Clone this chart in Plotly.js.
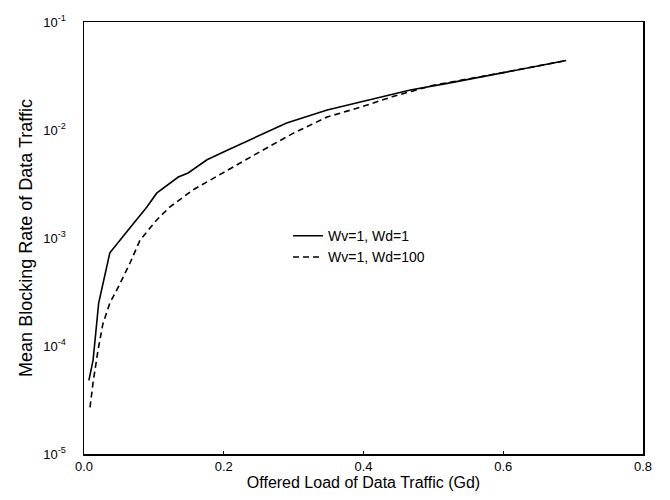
<!DOCTYPE html>
<html>
<head>
<meta charset="utf-8">
<script src="https://cdn.plot.ly/plotly-3.0.1.min.js"></script>
<style>html,body{margin:0;padding:0;background:#fff;}#chart{width:670px;height:500px;}</style>
</head>
<body>
<div id="chart"></div>
<script>
// Series 1: Wv=1, Wd=1 (solid)
const xSolid = [0.007, 0.013, 0.021, 0.037, 0.063, 0.090, 0.104, 0.135, 0.149, 0.176, 0.205, 0.242, 0.290, 0.348, 0.395, 0.467, 0.520, 0.600, 0.690];
const ySolid = [4.8e-5, 7.4e-5, 2.5e-4, 7.3e-4, 1.18e-3, 1.94e-3, 2.6e-3, 3.67e-3, 4.0e-3, 5.3e-3, 6.5e-3, 8.4e-3, 1.16e-2, 1.53e-2, 1.82e-2, 2.35e-2, 2.7e-2, 3.4e-2, 4.4e-2];
// Series 2: Wv=1, Wd=100 (dashed)
const xDash = [0.0086, 0.013, 0.020, 0.027, 0.037, 0.049, 0.066, 0.080, 0.104, 0.123, 0.156, 0.205, 0.252, 0.299, 0.348, 0.395, 0.442, 0.500, 0.600, 0.690];
const yDash = [2.7e-5, 4.6e-5, 9.1e-5, 1.6e-4, 2.5e-4, 3.5e-4, 5.9e-4, 9.5e-4, 1.47e-3, 1.94e-3, 2.79e-3, 4.26e-3, 6.3e-3, 9.3e-3, 1.32e-2, 1.62e-2, 2.04e-2, 2.6e-2, 3.4e-2, 4.4e-2];
const seriesNames = ["Wv=1, Wd=1", "Wv=1, Wd=100"];
// Axis ticks
const xTickVals = [0, 0.2, 0.4, 0.6, 0.8];
const xTickText = ["0.0", "0.2", "0.4", "0.6", "0.8"];
const yTickVals = [1e-5, 1e-4, 1e-3, 1e-2, 1e-1];
const yTickText = ["10<sup>-5</sup>", "10<sup>-4</sup>", "10<sup>-3</sup>", "10<sup>-2</sup>", "10<sup>-1</sup>"];

const font = "Liberation Sans, Arial, Helvetica, sans-serif";
const traces = [
  {x: xSolid, y: ySolid, name: seriesNames[0], mode: "lines", line: {color: "#000", width: 1.6, dash: "solid"}},
  {x: xDash, y: yDash, name: seriesNames[1], mode: "lines", line: {color: "#000", width: 1.6, dash: "6px,4px"}}
];
const layout = {
  width: 670, height: 500,
  margin: {l: 84, r: 27, t: 22, b: 46},
  paper_bgcolor: "#fff", plot_bgcolor: "#fff",
  font: {family: font, color: "#000", size: 13},
  showlegend: true,
  legend: {x: 0.365, y: 0.48, xanchor: "left", yanchor: "middle", bgcolor: "rgba(0,0,0,0)", font: {size: 14, family: font}, tracegroupgap: 0},
  xaxis: {
    range: [0, 0.8], tickvals: xTickVals, ticktext: xTickText,
    showgrid: false, zeroline: false, showline: true, mirror: true, linecolor: "#000", linewidth: 1.5,
    ticks: "inside", ticklen: 3, tickcolor: "#000",
    tickfont: {size: 13, family: font},
    title: {text: "Offered Load of Data Traffic (Gd)", font: {size: 16, family: font}, standoff: 2}
  },
  yaxis: {
    type: "log", range: [-5, -1], tickvals: yTickVals, ticktext: yTickText,
    showgrid: false, zeroline: false, showline: true, mirror: true, linecolor: "#000", linewidth: 1.5,
    ticks: "", ticklabelstandoff: 14,
    tickfont: {size: 13, family: font},
    title: {text: "Mean Blocking Rate of Data Traffic", font: {size: 18, family: font}, standoff: 6}
  }
};
Plotly.newPlot("chart", traces, layout, {displayModeBar: false, staticPlot: true});
</script>
</body>
</html>
